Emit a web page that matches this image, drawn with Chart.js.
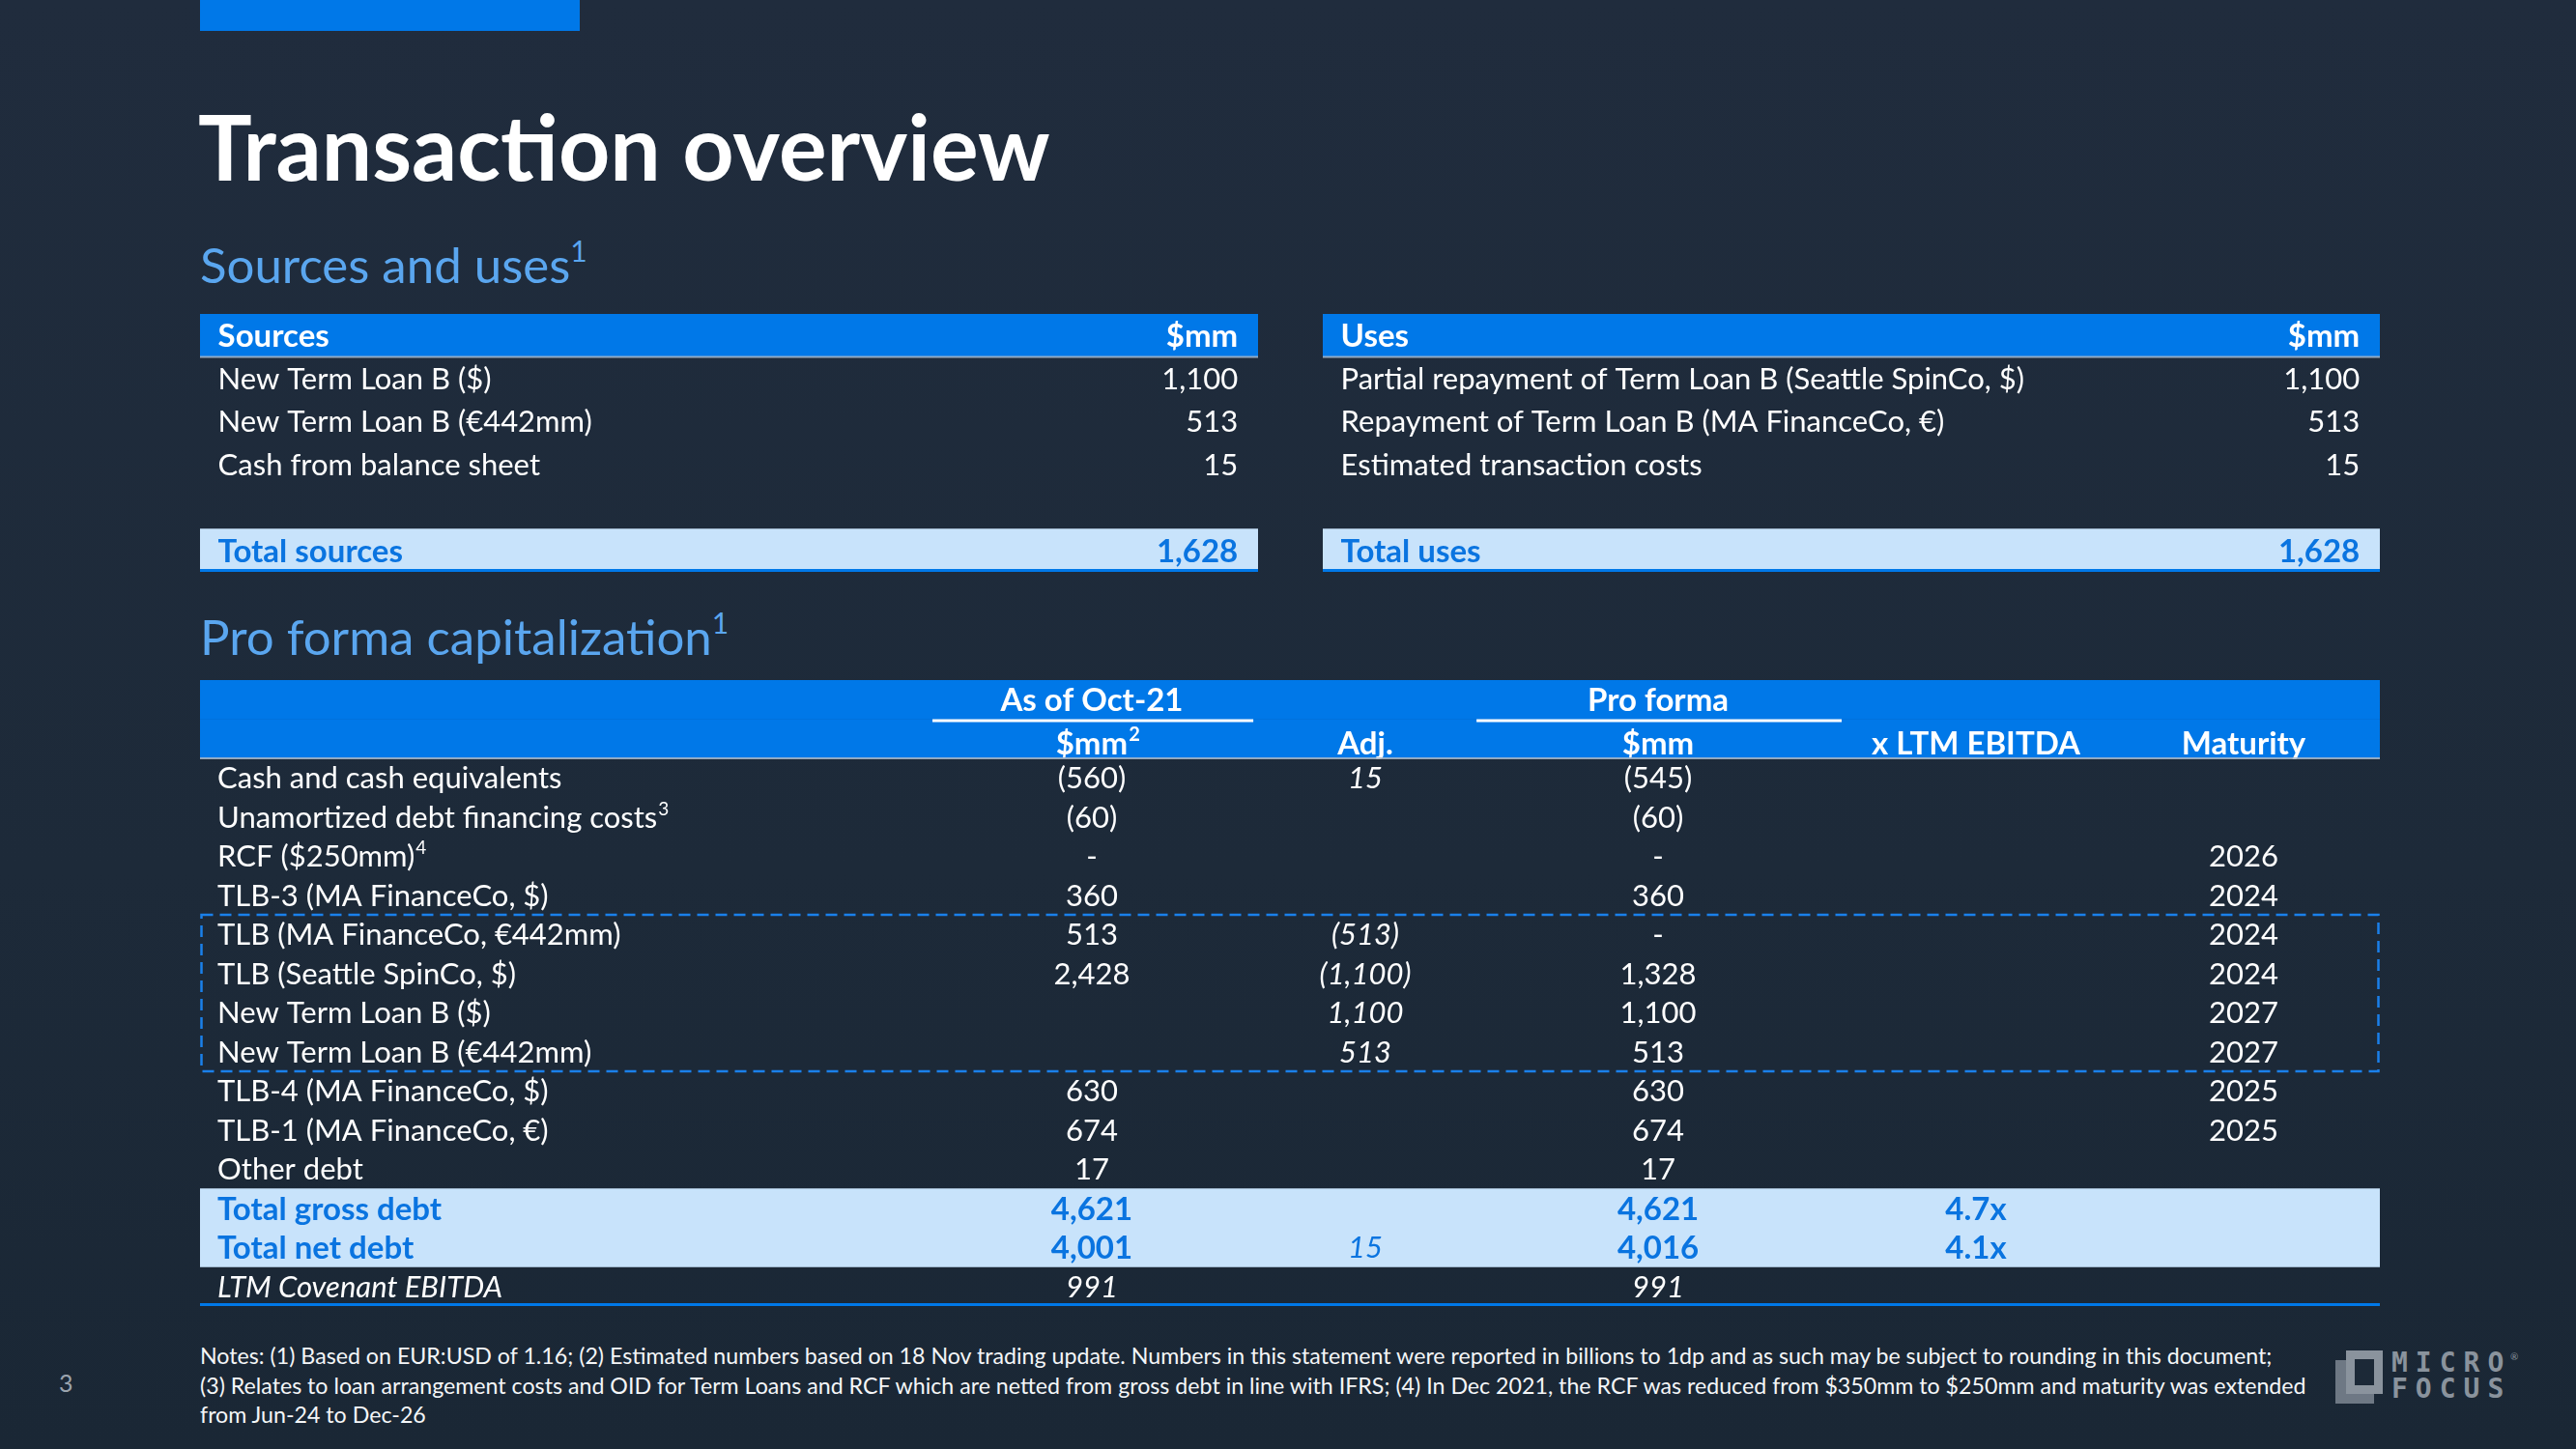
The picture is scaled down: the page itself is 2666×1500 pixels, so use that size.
<!DOCTYPE html>
<html lang="en">
  <head>
    <meta charset="UTF-8" />
    <title>Transaction overview</title>
    <script src="https://cdn.jsdelivr.net/npm/chart.js"></script>
    <style>
      html, body {
        margin: 0;
        padding: 0;
      }
      body {
        width: 2666px;
        height: 1500px;
        position: relative;
        overflow: hidden;
        background: linear-gradient(180deg, #202c3d 0%, #1d2a39 60%, #1a2735 100%);
        font-family: Lato, 'Open Sans', sans-serif;
        color: #ffffff;
      }
      .abs {
        position: absolute;
      }
      .topbar {
        left: 207px;
        top: 0;
        width: 393px;
        height: 32px;
        background: #0078e8;
      }
      h1 {
        position: absolute;
        margin: 0;
        left: 205px;
        top: 105px;
        font-size: 93px;
        line-height: 93px;
        font-weight: 700;
        white-space: nowrap;
      }
      h2 {
        position: absolute;
        margin: 0;
        left: 207px;
        font-size: 51px;
        line-height: 51px;
        font-weight: 400;
        color: #5aa6ef;
        white-space: nowrap;
      }
      h2 sup {
        font-size: 30px;
        vertical-align: 22px;
        line-height: 0;
      }
      .box {
        position: absolute;
      }
      .notes {
        left: 207px;
        top: 1388px;
        font-size: 23.2px;
        line-height: 30.6px;
        white-space: nowrap;
        color: #f4f6f8;
      }
      .page {
        left: 61px;
        top: 1416px;
        font-size: 25px;
        color: #9aa3ad;
      }
      .logo-back {
        left: 2417px;
        top: 1408px;
        width: 40px;
        height: 45px;
        background: #6e7884;
      }
      .logo-front {
        left: 2428px;
        top: 1398px;
        width: 20px;
        height: 27px;
        border: 9px solid #8a939d;
        background: #1c2937;
      }
      .logo-text {
        left: 2475px;
        top: 1397px;
        font-family: 'DejaVu Sans Mono', monospace;
        font-weight: 700;
        font-size: 28px;
        line-height: 27px;
        letter-spacing: 8px;
        color: #8a939d;
      }
      .logo-r {
        left: 2598px;
        top: 1398px;
        font-size: 10px;
        color: #8a939d;
      }
    </style>
  </head>
  <body>
    <div class="abs topbar"></div>
    <h1>Transaction overview</h1>
    <h2 style="top: 248px">Sources and uses<sup>1</sup></h2>
    <h2 style="top: 633px">Pro forma capitalization<sup>1</sup></h2>

    <div class="box" style="left: 207px; top: 325px; width: 1095px; height: 267px">
      <canvas id="sources"></canvas>
    </div>
    <div class="box" style="left: 1369px; top: 325px; width: 1094px; height: 267px">
      <canvas id="uses"></canvas>
    </div>
    <div class="box" style="left: 207px; top: 704px; width: 2256px; height: 648px">
      <canvas id="capitalization"></canvas>
    </div>

    <div class="abs notes">
      Notes: (1) Based on EUR:USD of 1.16; (2) Estimated numbers based on 18 Nov trading update. Numbers in this statement were reported in billions to 1dp and as such may be subject to rounding in this document;<br />
      (3) Relates to loan arrangement costs and OID for Term Loans and RCF which are netted from gross debt in line with IFRS; (4) In Dec 2021, the RCF was reduced from $350mm to $250mm and maturity was extended<br />
      from Jun-24 to Dec-26
    </div>
    <div class="abs page">3</div>
    <div class="abs logo-back"></div>
    <div class="abs logo-front"></div>
    <div class="abs logo-text">MICRO<br />FOCUS</div>
    <div class="abs logo-r">®</div>

    <script>
      // ---- data ----
      const sourceLabels = ['New Term Loan B ($)', 'New Term Loan B (€442mm)', 'Cash from balance sheet'];
      const sourceValues = [1100, 513, 15];
      const sourcesTotal = 1628;

      const useLabels = [
        'Partial repayment of Term Loan B (Seattle SpinCo, $)',
        'Repayment of Term Loan B (MA FinanceCo, €)',
        'Estimated transaction costs',
      ];
      const useValues = [1100, 513, 15];
      const usesTotal = 1628;

      const capLabels = [
        'Cash and cash equivalents',
        'Unamortized debt financing costs',
        'RCF ($250mm)',
        'TLB-3 (MA FinanceCo, $)',
        'TLB (MA FinanceCo, €442mm)',
        'TLB (Seattle SpinCo, $)',
        'New Term Loan B ($)',
        'New Term Loan B (€442mm)',
        'TLB-4 (MA FinanceCo, $)',
        'TLB-1 (MA FinanceCo, €)',
        'Other debt',
        'Total gross debt',
        'Total net debt',
        'LTM Covenant EBITDA',
      ];
      const capFootnotes = ['', '3', '4', '', '', '', '', '', '', '', '', '', '', ''];
      const asOfOct21 = [-560, -60, 0, 360, 513, 2428, null, null, 630, 674, 17, 4621, 4001, 991];
      const adjustments = [15, null, null, null, -513, -1100, 1100, 513, null, null, null, null, 15, null];
      const proForma = [-545, -60, 0, 360, 0, 1328, 1100, 513, 630, 674, 17, 4621, 4016, 991];
      const ltmMultiple = [null, null, null, null, null, null, null, null, null, null, null, 4.7, 4.1, null];
      const maturity = [null, null, 2026, 2024, 2024, 2024, 2027, 2027, 2025, 2025, null, null, null, null];
      const transactionRows = [4, 5, 6, 7]; // rows inside the dashed box

      // ---- style ----
      const BLUE = '#0078e8';
      const LIGHT = '#c8e3fb';
      const TEXT_BLUE = '#0a74e0';
      const WHITE = '#ffffff';
      const FONT = 'Lato, "Open Sans", sans-serif';
      const SIZE = 31;
      const BOLD_SIZE = 33;

      function fmt(v) {
        if (v === null || v === undefined) return '';
        if (v === 0) return '-';
        const s = Math.abs(v).toLocaleString('en-US');
        return v < 0 ? '(' + s + ')' : s;
      }

      function drawTable(chart, spec) {
        const { ctx, chartArea: area, scales } = chart;
        const x = scales.x;
        const y = scales.y;
        const band = y.getPixelForValue(1) - y.getPixelForValue(0);
        ctx.save();
        ctx.textBaseline = 'alphabetic';

        spec.rows.forEach((row, r) => {
          const cy = y.getPixelForValue(r) + (row.dy || 0);
          row.cells.forEach((cell, c) => {
            if (!cell || (!cell.t && !cell.sup)) return;
            const col = spec.cols[c];
            const px = x.getPixelForValue(col.x);
            const bold = cell.bold !== undefined ? cell.bold : row.bold;
            const italic = cell.italic !== undefined ? cell.italic : row.italic;
            const size = bold ? BOLD_SIZE : SIZE;
            const base = cy + size * 0.358;
            ctx.font = (italic ? 'italic ' : '') + (bold ? '700 ' : '400 ') + size + 'px ' + FONT;
            ctx.fillStyle = cell.color || row.color || WHITE;
            ctx.textAlign = col.align;
            ctx.fillText(cell.t, px, base);
            if (cell.sup) {
              const w = ctx.measureText(cell.t).width;
              const end = col.align === 'left' ? px + w : col.align === 'center' ? px + w / 2 : px;
              ctx.font = (bold ? '700 ' : '400 ') + Math.round(size * 0.6) + 'px ' + FONT;
              ctx.textAlign = 'left';
              ctx.fillText(cell.sup, end + 1, base - size * 0.42);
            }
          });
        });

        // thin line under the header
        const hy = y.getPixelForValue(spec.headerRows) - band / 2;
        ctx.fillStyle = 'rgba(170,185,200,0.85)';
        ctx.fillRect(area.left, hy - 1, area.right - area.left, 2);

        // header underlines
        (spec.underlines || []).forEach((u) => {
          const uy = y.getPixelForValue(u.row) + band / 2;
          ctx.fillStyle = WHITE;
          ctx.fillRect(x.getPixelForValue(u.from), uy, x.getPixelForValue(u.to) - x.getPixelForValue(u.from), 3);
        });

        // bottom rule
        ctx.fillStyle = BLUE;
        ctx.fillRect(area.left, area.bottom - 3, area.right - area.left, 3);

        // dashed box
        if (spec.box) {
          const top = y.getPixelForValue(spec.box[0]) - band / 2;
          const bottom = y.getPixelForValue(spec.box[1]) + band / 2;
          ctx.strokeStyle = '#1a80ea';
          ctx.lineWidth = 2.5;
          ctx.setLineDash([12, 7]);
          ctx.strokeRect(area.left + 1.5, top, area.right - area.left - 3, bottom - top);
        }
        ctx.restore();
      }

      function makeTable(id, spec) {
        return new Chart(document.getElementById(id), {
          type: 'bar',
          data: {
            labels: spec.labels,
            datasets: [
              {
                data: spec.rows.map((r) => (r.fill ? [0, 1] : null)),
                backgroundColor: spec.rows.map((r) => r.fill || 'rgba(0,0,0,0)'),
                barPercentage: 1,
                categoryPercentage: 1,
                borderWidth: 0,
              },
            ],
          },
          options: {
            indexAxis: 'y',
            responsive: true,
            maintainAspectRatio: false,
            animation: false,
            layout: { padding: 0 },
            scales: {
              x: { type: 'linear', min: 0, max: 1, display: false },
              y: { type: 'category', display: false },
            },
            plugins: { legend: { display: false }, tooltip: { enabled: false } },
          },
          plugins: [
            {
              id: 'tableCells',
              afterDatasetsDraw(chart) {
                drawTable(chart, spec);
              },
            },
          ],
        });
      }

      function sourcesSpec(title, labels, values, total) {
        const rows = [{ fill: BLUE, bold: true, cells: [{ t: title }, { t: '$mm' }] }];
        labels.forEach((l, i) => rows.push({ cells: [{ t: l }, { t: fmt(values[i]) }] }));
        rows.push({ cells: [] });
        rows.push({
          fill: LIGHT,
          bold: true,
          color: TEXT_BLUE,
          cells: [{ t: 'Total ' + title.toLowerCase() }, { t: fmt(total) }],
        });
        return {
          labels: [title, ...labels, '', 'Total ' + title.toLowerCase()],
          headerRows: 1,
          cols: [
            { x: 0.017, align: 'left' },
            { x: 0.981, align: 'right' },
          ],
          rows: rows,
        };
      }

      makeTable('sources', sourcesSpec('Sources', sourceLabels, sourceValues, sourcesTotal));
      makeTable('uses', sourcesSpec('Uses', useLabels, useValues, usesTotal));

      // capitalization table
      const capRows = [
        { fill: BLUE, bold: true, cells: [{ t: '' }, { t: 'As of Oct-21' }, null, { t: 'Pro forma' }, null, null] },
        {
          fill: BLUE,
          bold: true,
          dy: 4,
          cells: [{ t: '' }, { t: '$mm', sup: '2' }, { t: 'Adj.' }, { t: '$mm' }, { t: 'x LTM EBITDA' }, { t: 'Maturity' }],
        },
      ];
      capLabels.forEach((label, i) => {
        const total = i === 11 || i === 12;
        const last = i === capLabels.length - 1;
        capRows.push({
          fill: total ? LIGHT : null,
          bold: total,
          italic: last,
          color: total ? TEXT_BLUE : WHITE,
          cells: [
            { t: label, sup: capFootnotes[i] },
            { t: fmt(asOfOct21[i]) },
            { t: fmt(adjustments[i]), italic: true, bold: false },
            { t: fmt(proForma[i]) },
            { t: ltmMultiple[i] === null ? '' : ltmMultiple[i].toFixed(1) + 'x' },
            { t: maturity[i] === null ? '' : String(maturity[i]) },
          ],
        });
      });

      makeTable('capitalization', {
        labels: ['As of Oct-21', '$mm', ...capLabels],
        headerRows: 2,
        cols: [
          { x: 0.008, align: 'left' },
          { x: 0.4091, align: 'center' },
          { x: 0.5346, align: 'center' },
          { x: 0.6689, align: 'center' },
          { x: 0.8147, align: 'center' },
          { x: 0.9375, align: 'center' },
        ],
        underlines: [
          { row: 0, from: 0.336, to: 0.4832 },
          { row: 0, from: 0.5856, to: 0.7531 },
        ],
        box: [2 + transactionRows[0], 2 + transactionRows[transactionRows.length - 1]],
        rows: capRows,
      });
    </script>
  </body>
</html>
